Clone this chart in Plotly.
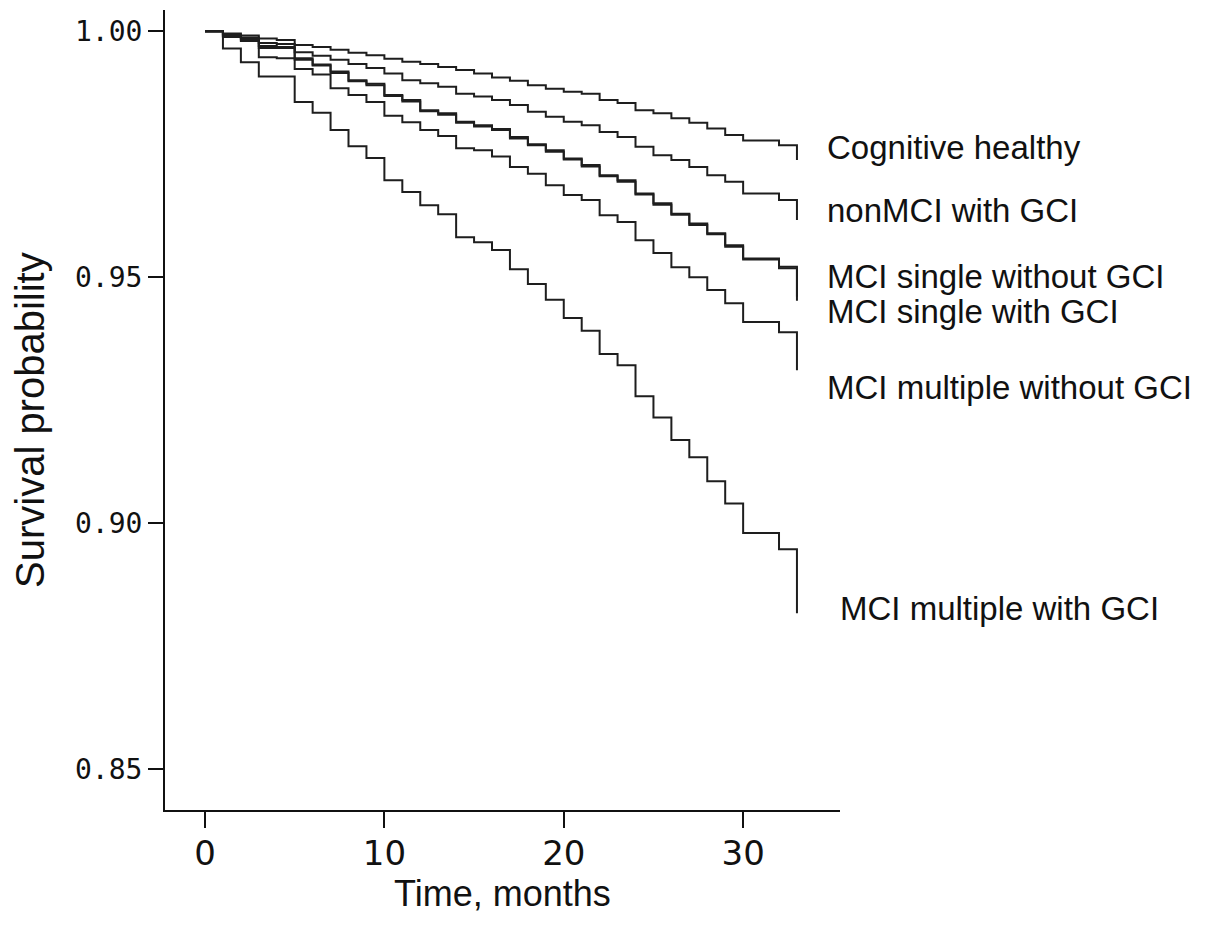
import plotly.graph_objects as go

months = list(range(0, 34))

cognitive_healthy = [1.0, 0.9995, 0.9991, 0.9985, 0.9982, 0.9972, 0.9968, 0.9962, 0.9956, 0.9951,
                     0.9944, 0.9938, 0.9933, 0.9927, 0.9921, 0.9914, 0.9906, 0.9899, 0.9890, 0.9883,
                     0.9877, 0.9873, 0.9860, 0.9854, 0.9839, 0.9833, 0.9823, 0.9814, 0.9802, 0.9789,
                     0.9778, 0.9778, 0.9768, 0.9738]
nonmci_gci = [1.0, 0.9993, 0.9987, 0.9976, 0.9974, 0.9957, 0.9950, 0.9942, 0.9933, 0.9925,
              0.9914, 0.9900, 0.9894, 0.9887, 0.9873, 0.9867, 0.9860, 0.9850, 0.9836, 0.9826,
              0.9816, 0.9809, 0.9795, 0.9785, 0.9765, 0.9748, 0.9738, 0.9724, 0.9707, 0.9694,
              0.9670, 0.9670, 0.9657, 0.9616]
mci_single_no_gci = [1.0, 0.9991, 0.9985, 0.9970, 0.9968, 0.9945, 0.9932, 0.9918, 0.9900, 0.9893,
                     0.9870, 0.9860, 0.9839, 0.9833, 0.9816, 0.9809, 0.9801, 0.9785, 0.9770, 0.9758,
                     0.9741, 0.9728, 0.9707, 0.9697, 0.9670, 0.9650, 0.9629, 0.9609, 0.9589, 0.9565,
                     0.9538, 0.9538, 0.9521, 0.9460]
mci_single_gci = [1.0, 0.9990, 0.9983, 0.9966, 0.9966, 0.9942, 0.9930, 0.9915, 0.9898, 0.9890,
                  0.9868, 0.9857, 0.9837, 0.9830, 0.9814, 0.9806, 0.9799, 0.9782, 0.9768, 0.9755,
                  0.9739, 0.9725, 0.9705, 0.9694, 0.9668, 0.9647, 0.9627, 0.9606, 0.9587, 0.9562,
                  0.9536, 0.9536, 0.9518, 0.9452]
mci_multiple_no_gci = [1.0, 0.9988, 0.9980, 0.9947, 0.9945, 0.9923, 0.9912, 0.9884, 0.9870, 0.9856,
                       0.9828, 0.9815, 0.9799, 0.9787, 0.9762, 0.9758, 0.9745, 0.9724, 0.9710, 0.9687,
                       0.9667, 0.9657, 0.9626, 0.9612, 0.9575, 0.9549, 0.9520, 0.9500, 0.9474, 0.9447,
                       0.9409, 0.9409, 0.9388, 0.9311]
mci_multiple_gci = [1.0, 0.9965, 0.9937, 0.9908, 0.9908, 0.9856, 0.9834, 0.9799, 0.9766, 0.9742,
                    0.9697, 0.9673, 0.9646, 0.9628, 0.9581, 0.9571, 0.9555, 0.9516, 0.9486, 0.9454,
                    0.9417, 0.9391, 0.9344, 0.9321, 0.9258, 0.9215, 0.9169, 0.9134, 0.9085, 0.9040,
                    0.8980, 0.8980, 0.8947, 0.8817]

series = [
    ("Cognitive healthy", cognitive_healthy),
    ("nonMCI with GCI", nonmci_gci),
    ("MCI single without GCI", mci_single_no_gci),
    ("MCI single with GCI", mci_single_gci),
    ("MCI multiple without GCI", mci_multiple_no_gci),
    ("MCI multiple with GCI", mci_multiple_gci),
]

labels = ["Cognitive healthy", "nonMCI with GCI", "MCI single without GCI",
          "MCI single with GCI", "MCI multiple without GCI", "MCI multiple with GCI"]
label_y = [0.9764, 0.9636, 0.9502, 0.9431, 0.9276, 0.8827]
label_x = [34.54, 34.54, 34.54, 34.54, 34.54, 35.27]

x_ticks = [0, 10, 20, 30]
y_ticks = [0.85, 0.90, 0.95, 1.00]
y_ticktext = ["0.85", "0.90", "0.95", "1.00"]

fig = go.Figure()
for name, vals in series:
    fig.add_trace(go.Scatter(
        x=months, y=vals, mode="lines", name=name,
        line=dict(shape="hv", color="#1e1e1e", width=2),
        showlegend=False,
    ))

for txt, xx, yy in zip(labels, label_x, label_y):
    fig.add_annotation(x=xx, y=yy, xref="x", yref="y", text=txt, showarrow=False,
                       xanchor="left", yanchor="middle",
                       font=dict(family="Liberation Sans, Arial", size=33, color="#111"))

fig.add_annotation(x=0.5, y=-0.104, xref="paper", yref="paper", text="Time, months",
                   showarrow=False, xanchor="center", yanchor="middle",
                   font=dict(family="Liberation Sans, Arial", size=36, color="#111"))
fig.add_annotation(x=-0.2, y=0.4875, xref="paper", yref="paper", text="Survival probability",
                   showarrow=False, textangle=-90, xanchor="center", yanchor="middle",
                   font=dict(family="Liberation Sans, Arial", size=40, color="#111"))

# page body has an 8px margin, so the figure is sized/shifted to compensate
fig.update_layout(
    width=1214, height=938,
    margin=dict(l=157, r=382, t=2, b=136),
    paper_bgcolor="white", plot_bgcolor="white",
)
fig.update_xaxes(range=[-2.23, 35.4], tickvals=x_ticks, ticks="outside", ticklen=16,
                 tickwidth=2, tickcolor="#111", showline=True, linecolor="#111", linewidth=2,
                 showgrid=False, zeroline=False, ticklabelstandoff=-4,
                 tickfont=dict(family="DejaVu Sans", size=34, color="#111"))
fig.update_yaxes(range=[0.8417, 1.0043], tickvals=y_ticks, ticktext=y_ticktext, ticks="outside",
                 ticklen=15, tickwidth=2, tickcolor="#111", showline=True, linecolor="#111",
                 linewidth=2, showgrid=False, zeroline=False,
                 tickfont=dict(family="DejaVu Sans Mono", size=28, color="#111"))

fig.write_html("out.html")
